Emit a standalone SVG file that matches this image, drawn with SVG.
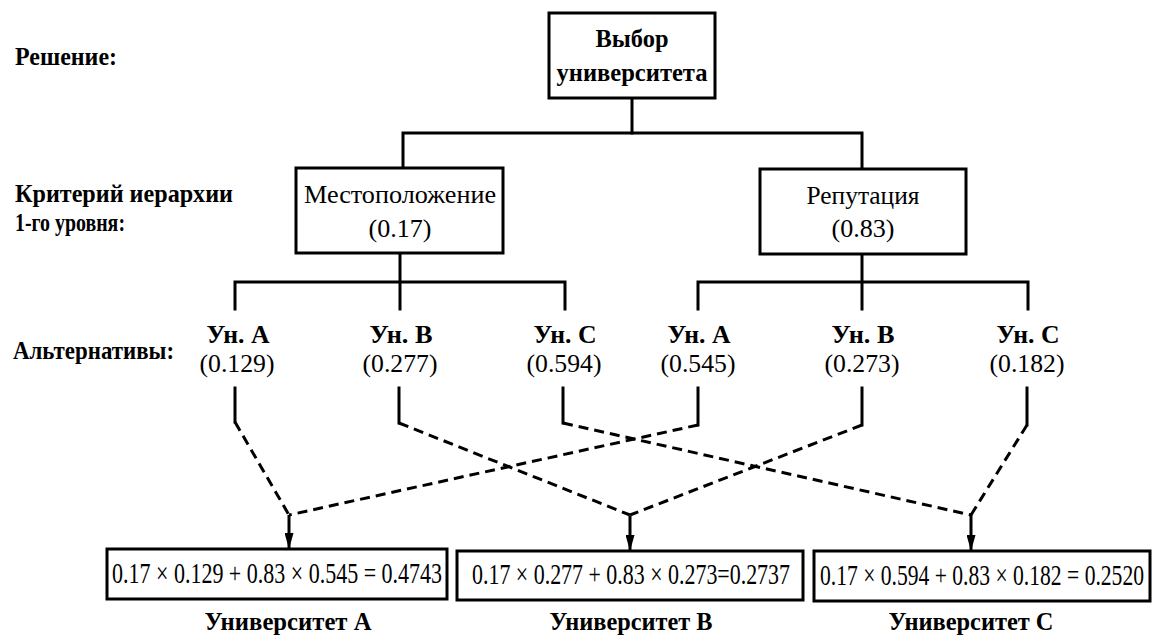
<svg xmlns="http://www.w3.org/2000/svg" width="1152" height="637" viewBox="0 0 1152 637">
<style>
  text { font-family: "Liberation Serif", "DejaVu Serif", serif; fill: #000; }
  .b { font-weight: bold; }
  .lbl { font-size: 26px; }
  .sm { font-size: 25px; }
  .mid { text-anchor: middle; }
  .box { fill: #fff; stroke: #000; stroke-width: 3; }
  .ln { fill: none; stroke: #000; stroke-width: 3; stroke-linecap: square; }
  .dash { fill: none; stroke: #000; stroke-width: 3; stroke-dasharray: 10 6; }
  .f { font-size: 22px; text-anchor: middle; }
</style>
<defs>
  <marker id="arr" viewBox="0 0 16 9" refX="16" refY="4.5" markerWidth="16" markerHeight="9" markerUnits="userSpaceOnUse" orient="auto">
    <path d="M0,0 L16,4.5 L0,9 z" fill="#000"/>
  </marker>
</defs>
<rect width="1152" height="637" fill="#fff"/>

<!-- side labels -->
<g id="side-labels">
  <text class="lbl b" x="15" y="65" textLength="102" lengthAdjust="spacingAndGlyphs">Решение:</text>
  <text class="sm b" x="15" y="202" textLength="218" lengthAdjust="spacingAndGlyphs">Критерий иерархии</text>
  <text class="sm b" x="15" y="231" textLength="110" lengthAdjust="spacingAndGlyphs">1-го уровня:</text>
  <text class="sm b" x="13" y="359" textLength="161" lengthAdjust="spacingAndGlyphs">Альтернативы:</text>
</g>

<!-- connectors -->
<g id="connectors">
  <polyline class="ln" points="632,98 632,133"/>
  <polyline class="ln" points="403,168 403,133 862,133 862,169"/>
  <polyline class="ln" points="400,253 400,309"/>
  <polyline class="ln" points="235,309 235,282 565,282 565,309"/>
  <polyline class="ln" points="862,254 862,309"/>
  <polyline class="ln" points="698,309 698,282 1028,282 1028,309"/>

  <polyline class="ln" points="235,388 235,422"/>
  <polyline class="ln" points="399,388 399,423"/>
  <polyline class="ln" points="563,388 563,423"/>
  <polyline class="ln" points="698,388 698,425"/>
  <polyline class="ln" points="862,388 862,425"/>
  <polyline class="ln" points="1027,388 1027,425"/>

  <line class="dash" x1="235" y1="422" x2="289" y2="515"/>
  <line class="dash" x1="399" y1="423" x2="630" y2="515"/>
  <line class="dash" x1="563" y1="423" x2="971" y2="515"/>
  <line class="dash" x1="698" y1="425" x2="289" y2="515"/>
  <line class="dash" x1="862" y1="425" x2="630" y2="515"/>
  <line class="dash" x1="1027" y1="425" x2="971" y2="515"/>

  <line class="ln" style="stroke-linecap:butt" x1="289" y1="515" x2="289" y2="549" marker-end="url(#arr)"/>
  <line class="ln" style="stroke-linecap:butt" x1="630" y1="516" x2="630" y2="551" marker-end="url(#arr)"/>
  <line class="ln" style="stroke-linecap:butt" x1="971" y1="515" x2="971" y2="551" marker-end="url(#arr)"/>
</g>

<!-- goal -->
<g id="goal">
  <rect class="box" x="549" y="13" width="166" height="85"/>
  <text class="lbl b mid" x="632" y="47" textLength="73" lengthAdjust="spacingAndGlyphs">Выбор</text>
  <text class="lbl b mid" x="632" y="81" textLength="151" lengthAdjust="spacingAndGlyphs">университета</text>
</g>

<!-- criteria -->
<g id="crit-location">
  <rect class="box" x="296" y="168" width="207" height="85"/>
  <text class="lbl mid" x="400" y="203" textLength="192" lengthAdjust="spacingAndGlyphs">Местоположение</text>
  <text class="lbl mid" x="400" y="237" textLength="63" lengthAdjust="spacingAndGlyphs">(0.17)</text>
</g>
<g id="crit-reputation">
  <rect class="box" x="760" y="169" width="206" height="85"/>
  <text class="lbl mid" x="863" y="204" textLength="113" lengthAdjust="spacingAndGlyphs">Репутация</text>
  <text class="lbl mid" x="863" y="237" textLength="63" lengthAdjust="spacingAndGlyphs">(0.83)</text>
</g>

<!-- alternatives -->
<g id="alt-loc-a">
  <text class="sm b mid" x="238" y="343" textLength="63" lengthAdjust="spacingAndGlyphs">Ун. A</text>
  <text class="sm mid" x="237" y="372" textLength="75" lengthAdjust="spacingAndGlyphs">(0.129)</text>
</g>
<g id="alt-loc-b">
  <text class="sm b mid" x="401" y="343" textLength="63" lengthAdjust="spacingAndGlyphs">Ун. B</text>
  <text class="sm mid" x="400" y="372" textLength="75" lengthAdjust="spacingAndGlyphs">(0.277)</text>
</g>
<g id="alt-loc-c">
  <text class="sm b mid" x="565" y="343" textLength="63" lengthAdjust="spacingAndGlyphs">Ун. C</text>
  <text class="sm mid" x="564" y="372" textLength="75" lengthAdjust="spacingAndGlyphs">(0.594)</text>
</g>
<g id="alt-rep-a">
  <text class="sm b mid" x="699" y="343" textLength="63" lengthAdjust="spacingAndGlyphs">Ун. A</text>
  <text class="sm mid" x="698" y="372" textLength="75" lengthAdjust="spacingAndGlyphs">(0.545)</text>
</g>
<g id="alt-rep-b">
  <text class="sm b mid" x="863" y="343" textLength="63" lengthAdjust="spacingAndGlyphs">Ун. B</text>
  <text class="sm mid" x="862" y="372" textLength="75" lengthAdjust="spacingAndGlyphs">(0.273)</text>
</g>
<g id="alt-rep-c">
  <text class="sm b mid" x="1028" y="343" textLength="63" lengthAdjust="spacingAndGlyphs">Ун. C</text>
  <text class="sm mid" x="1027" y="372" textLength="75" lengthAdjust="spacingAndGlyphs">(0.182)</text>
</g>

<!-- results -->
<g id="result-a">
  <rect class="box" x="107" y="549" width="340" height="50"/>
  <text class="f" transform="translate(277,583) scale(1,1.36)" x="0" y="0" textLength="330" lengthAdjust="spacingAndGlyphs">0.17 × 0.129 + 0.83 × 0.545 = 0.4743</text>
  <text class="lbl b mid" x="288" y="630" textLength="167" lengthAdjust="spacingAndGlyphs">Университет A</text>
</g>
<g id="result-b">
  <rect class="box" x="457" y="551" width="346" height="49"/>
  <text class="f" transform="translate(631,584) scale(1,1.36)" x="0" y="0" textLength="318" lengthAdjust="spacingAndGlyphs">0.17 × 0.277 + 0.83 × 0.273=0.2737</text>
  <text class="lbl b mid" x="631" y="630" textLength="163" lengthAdjust="spacingAndGlyphs">Университет B</text>
</g>
<g id="result-c">
  <rect class="box" x="814" y="551" width="336" height="50"/>
  <text class="f" transform="translate(982,585) scale(1,1.36)" x="0" y="0" textLength="324" lengthAdjust="spacingAndGlyphs">0.17 × 0.594 + 0.83 × 0.182 = 0.2520</text>
  <text class="lbl b mid" x="971" y="630" textLength="165" lengthAdjust="spacingAndGlyphs">Университет C</text>
</g>
</svg>
